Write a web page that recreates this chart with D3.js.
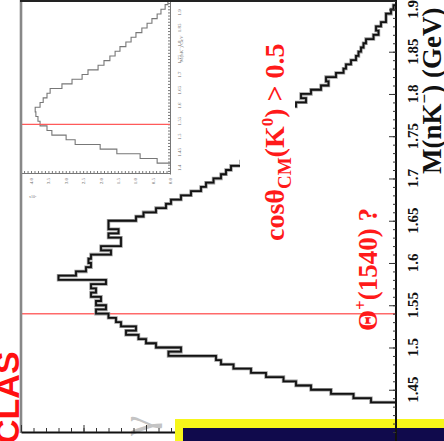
<!DOCTYPE html>
<html>
<head>
<meta charset="utf-8">
<script src="https://cdn.jsdelivr.net/npm/d3@7"></script>
<style>
  body { margin: 0; background: #fff; overflow: hidden; }
</style>
</head>
<body>
<div id="chart"></div>
<script>
// rotated CLAS plot: mass axis runs up the right side, counts grow to the left

const width = 444, height = 441;

// main histogram, 5 MeV bins from 1.435 GeV
const binStart = 1.435, binWidth = 0.005;
const counts = [
  10, 17, 26, 34, 40, 45, 52, 58, 65, 70,
  72, 91, 86, 96, 100, 103, 108, 104, 110, 112,
  115, 120, 116, 120, 118, 122, 120, 122, 116, 135,
  128, 124, 122, 123, 122, 114, 118, 110, 110, 115,
  111, 115, 115, 104, 101, 96, 92, 90, 86, 82,
  78, 76, 73, 70, 68, 66, 62, 60, 58, 56,
  54, 52, 50, 49, 47, 46, 45, 44, 44, 43,
  40, 36, 38, 34, 30, 27, 28, 24, 21, 20,
  18, 16, 15, 14, 13, 12, 9, 7, 8, 6,
  4, 4, 2, 1
];
const massTicks = [1.45, 1.5, 1.55, 1.6, 1.65, 1.7, 1.75, 1.8, 1.85, 1.9];
const massTickLabels = ["1.45", "1.5", "1.55", "1.6", "1.65", "1.7", "1.75", "1.8", "1.85", "1.9"];

// inset: whole spectrum, 15 MeV bins from 1.415 GeV (x10^3 events)
const insetStart = 1.415, insetWidth = 0.015;
const insetCounts = [
  0.37, 0.86, 1.53, 2.01, 2.73, 2.99, 3.40, 3.54, 3.74, 3.80,
  3.86, 3.88, 3.74, 3.65, 3.54, 3.45, 3.11, 2.82, 2.53, 2.36,
  2.07, 1.90, 1.73, 1.58, 1.44, 1.27, 1.12, 0.98, 0.81, 0.66,
  0.52, 0.37, 0.26, 0.14, 0.06
];
const insetMassTicks = [1.4, 1.45, 1.5, 1.55, 1.6, 1.65, 1.7, 1.75, 1.8, 1.85, 1.9];
const insetCountTicks = [0, 0.5, 1, 1.5, 2, 2.5, 3, 3.5, 4];

const thetaMass = 1.54;

const svg = d3.select("#chart")
  .append("svg")
  .attr("width", width)
  .attr("height", height)
  .style("display", "block");

// scales
const yScale = d3.scaleLinear().domain([1.40, 1.91]).range([432, 1]);
const xScale = d3.scaleLinear().domain([0, 150]).range([396, 21]);

const yInset = d3.scaleLinear().domain([1.38, 1.94]).range([174, 0]);
const xInset = d3.scaleLinear().domain([0, 4.3]).range([170, 20.6]);

// turn bins into a step outline
function stepPoints(start, w, vals, xs, ys) {
  const pts = [[xs(0), ys(start)]];
  vals.forEach((v, i) => {
    pts.push([xs(v), ys(start + i * w)]);
    pts.push([xs(v), ys(start + (i + 1) * w)]);
  });
  pts.push([xs(0), ys(start + vals.length * w)]);
  return pts;
}

// inset histogram
svg.append("path")
  .attr("d", d3.line()(stepPoints(insetStart, insetWidth, insetCounts, xInset, yInset)))
  .attr("fill", "none")
  .attr("stroke", "#777")
  .attr("stroke-width", 1.1);

// inset axes
svg.append("g")
  .attr("transform", "translate(170,0)")
  .call(d3.axisRight(yInset).tickValues(d3.range(1.39, 1.94, 0.01)).tickSize(-2).tickFormat("").tickSizeOuter(0))
  .call(g => g.selectAll("path,line").attr("stroke", "#777"));
svg.append("g")
  .attr("transform", "translate(0,173)")
  .call(d3.axisBottom(xInset).tickValues(d3.range(0, 4.3, 0.1)).tickSize(-2).tickFormat("").tickSizeOuter(0))
  .call(g => g.selectAll("path,line").attr("stroke", "#777"));

svg.selectAll(".inset-mlab")
  .data(insetMassTicks)
  .enter()
  .append("text")
  .attr("class", "inset-mlab")
  .attr("transform", d => `translate(181,${yInset(d)}) rotate(-90)`)
  .attr("text-anchor", "middle")
  .attr("font-family", "Liberation Serif, serif")
  .attr("font-size", 5)
  .attr("fill", "#666")
  .text(d => d3.format(".2~f")(d));

svg.selectAll(".inset-clab")
  .data(insetCountTicks)
  .enter()
  .append("text")
  .attr("class", "inset-clab")
  .attr("transform", d => `translate(${xInset(d) + 2},178) rotate(-90)`)
  .attr("text-anchor", "end")
  .attr("font-family", "Liberation Serif, serif")
  .attr("font-size", 5)
  .attr("fill", "#666")
  .text(d => d3.format(".1f")(d));

svg.append("text")
  .attr("x", 29).attr("y", 198)
  .attr("font-family", "Liberation Serif, serif")
  .attr("font-size", 4)
  .attr("fill", "#777")
  .text("x10³");

svg.append("text")
  .attr("transform", "translate(183,62) rotate(-90)")
  .attr("font-family", "Liberation Serif, serif")
  .attr("font-size", 5)
  .attr("fill", "#777")
  .text("M(nK⁻) GeV");

// inset red marker
svg.append("line")
  .attr("x1", 21).attr("x2", 170)
  .attr("y1", yInset(thetaMass)).attr("y2", yInset(thetaMass))
  .attr("stroke", "#ff5a5a")
  .attr("stroke-width", 1.2);

// main red marker at 1540 MeV
svg.append("line")
  .attr("x1", 21).attr("x2", 396)
  .attr("y1", yScale(thetaMass)).attr("y2", yScale(thetaMass))
  .attr("stroke", "#ff6a6a")
  .attr("stroke-width", 1.4);

// main histogram
svg.append("path")
  .attr("d", d3.line()(stepPoints(binStart, binWidth, counts, xScale, yScale)))
  .attr("fill", "none")
  .attr("stroke", "#999")
  .attr("stroke-width", 3.4);
svg.append("path")
  .attr("d", d3.line()(stepPoints(binStart, binWidth, counts, xScale, yScale)))
  .attr("fill", "none")
  .attr("stroke", "#111")
  .attr("stroke-width", 1.8);

// cut label, on a white box that hides the histogram behind it
const cutLabel = svg.append("g")
  .attr("transform", "translate(284,241) rotate(-90)");
const cutBox = cutLabel.append("rect").attr("fill", "#fff");
const cutText = cutLabel.append("text")
  .attr("font-family", "Liberation Serif, serif")
  .attr("font-weight", "bold")
  .attr("font-size", 28)
  .attr("fill", "#ff1a1a");
cutText.append("tspan").text("cosθ");
cutText.append("tspan").attr("font-size", 19).attr("dy", 7).text("CM");
cutText.append("tspan").attr("dy", -7).text("(K");
cutText.append("tspan").attr("font-size", 17).attr("dy", -11).text("0");
cutText.append("tspan").attr("dy", 11).text(") > 0.5");
const bb = cutText.node().getBBox();
cutBox.attr("x", bb.x - 2).attr("y", bb.y - 18)
  .attr("width", bb.width + 4).attr("height", bb.height + 18);

// Theta+ label
const thetaText = svg.append("text")
  .attr("transform", "translate(377,331) rotate(-90)")
  .attr("font-family", "Liberation Serif, serif")
  .attr("font-weight", "bold")
  .attr("font-size", 27)
  .attr("fill", "#ff1a1a");
thetaText.append("tspan").text("Θ");
thetaText.append("tspan").attr("font-size", 17).attr("dy", -11).text("+");
thetaText.append("tspan").attr("dy", 11).text("(1540) ?");

// CLAS logo text, cut by the left edge
svg.append("text")
  .attr("transform", "translate(19,444) rotate(-90)")
  .attr("font-family", "Liberation Sans, Arial, sans-serif")
  .attr("font-weight", "bold")
  .attr("font-size", 34)
  .attr("fill", "#ff1010")
  .text("CLAS");

// faint grey glyph near the bottom
svg.append("text")
  .attr("transform", "translate(152,436) rotate(-90)")
  .attr("font-family", "Liberation Serif, serif")
  .attr("font-size", 46)
  .attr("fill", "#c4c4c4")
  .text("γ");

// frame
svg.append("line")
  .attr("x1", 21).attr("x2", 21).attr("y1", 0).attr("y2", 433)
  .attr("stroke", "#888").attr("stroke-width", 2.6);
svg.append("line")
  .attr("x1", 20).attr("x2", 397).attr("y1", 1).attr("y2", 1)
  .attr("stroke", "#222").attr("stroke-width", 2);

// count axis along the bottom
svg.append("g")
  .attr("transform", "translate(0,432)")
  .call(d3.axisBottom(xScale).tickValues(d3.range(0, 151, 5)).tickSize(-4).tickFormat("").tickSizeOuter(0))
  .call(g => g.select(".domain").attr("stroke", "#111").attr("stroke-width", 2))
  .call(g => g.selectAll(".tick line").attr("stroke", "#333"));
svg.append("g")
  .attr("transform", "translate(0,432)")
  .call(d3.axisBottom(xScale).tickValues(d3.range(0, 151, 25)).tickSize(-7).tickFormat("").tickSizeOuter(0))
  .call(g => g.select(".domain").remove())
  .call(g => g.selectAll(".tick line").attr("stroke", "#333"));

// overlapping yellow/navy panel at the bottom
svg.append("rect")
  .attr("x", 175).attr("y", 419).attr("width", 269).attr("height", 22)
  .attr("fill", "#f6f61a");
svg.append("rect")
  .attr("x", 183).attr("y", 428).attr("width", 261).attr("height", 13)
  .attr("fill", "#100a4c");

// mass axis on the right
svg.append("g")
  .attr("transform", "translate(396,0)")
  .call(d3.axisRight(yScale).tickValues(d3.range(1.40, 1.911, 0.01)).tickSize(-3).tickFormat("").tickSizeOuter(0))
  .call(g => g.select(".domain").attr("stroke", "#111").attr("stroke-width", 2).attr("d", "M0,0V441"))
  .call(g => g.selectAll(".tick line").attr("stroke", "#333"));
svg.append("g")
  .attr("transform", "translate(396,0)")
  .call(d3.axisRight(yScale).tickValues(massTicks).tickSize(-7).tickFormat("").tickSizeOuter(0))
  .call(g => g.select(".domain").remove())
  .call(g => g.selectAll(".tick line").attr("stroke", "#333"));

svg.selectAll(".mlab")
  .data(massTicks)
  .enter()
  .append("text")
  .attr("class", "mlab")
  .attr("transform", d => `translate(418,${yScale(d)}) rotate(-90)`)
  .attr("text-anchor", "middle")
  .attr("font-family", "Liberation Serif, serif")
  .attr("font-weight", "bold")
  .attr("font-size", 15)
  .attr("fill", "#111")
  .text((d, i) => massTickLabels[i]);

const title = svg.append("text")
  .attr("transform", "translate(441,174) rotate(-90)")
  .attr("font-family", "Liberation Serif, serif")
  .attr("font-weight", "bold")
  .attr("font-size", 27)
  .attr("fill", "#111");
title.append("tspan").text("M(nK");
title.append("tspan").attr("font-size", 17).attr("dy", -11).text("−");
title.append("tspan").attr("dy", 11).text(") (GeV)");
</script>
</body>
</html>
